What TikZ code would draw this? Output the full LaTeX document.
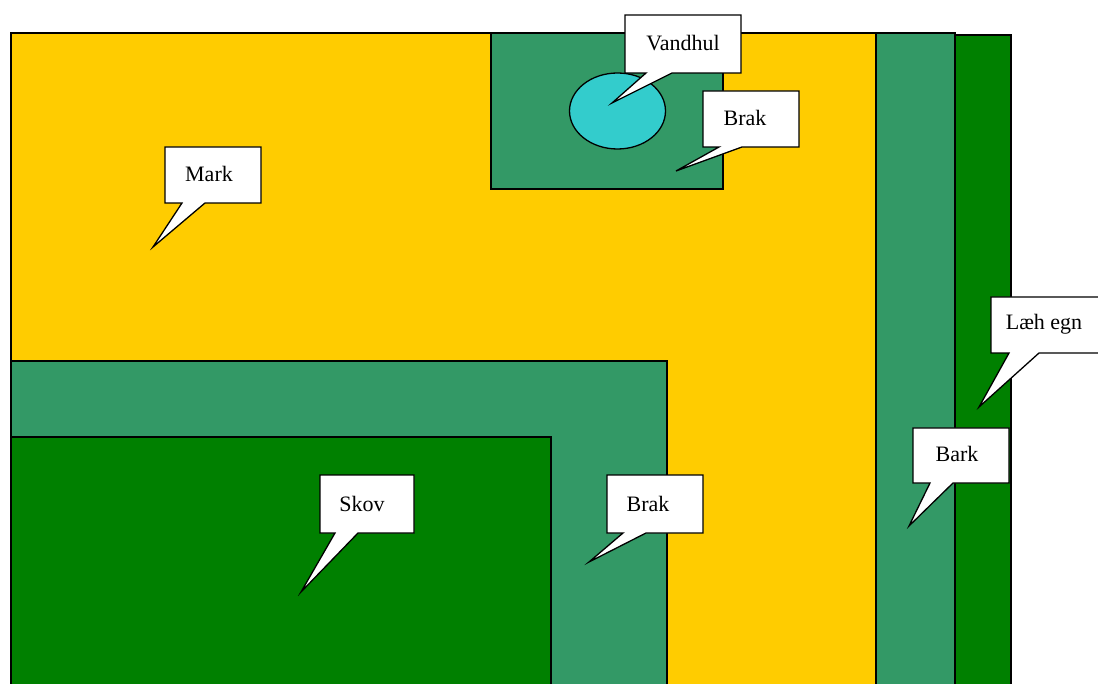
\documentclass[tikz,border=0pt]{standalone}
\usepackage{fontspec}
\setmainfont{Liberation Serif}
\definecolor{markyellow}{HTML}{FFCC00}
\definecolor{brakgreen}{HTML}{339966}
\definecolor{skovgreen}{HTML}{008000}
\definecolor{water}{HTML}{33CCCC}
\tikzset{
  area/.style={draw=black, line width=1.3pt},
  bubble/.style={draw=black, fill=white, line width=1.3pt, line join=miter},
  lbl/.style={inner sep=0pt, font=\fontsize{22}{26}\selectfont},
}
% callout: box x1,y1,x2,y2 ; tail base left, right ; tip
\newcommand{\mycallout}[8]{%
  \draw[bubble] (#1,#2) -- (#3,#2) -- (#3,#4) -- (#6,#4) -- (#7,#8) -- (#5,#4) -- (#1,#4) -- cycle;}
\begin{document}
\begin{tikzpicture}[x=1pt,y=-1pt]
\useasboundingbox (0,0) rectangle (1098,684);
\clip (0,0) rectangle (1098,684);
% fields
\draw[area, fill=markyellow] (11,33) rectangle (876,700);
\draw[area, fill=brakgreen] (11,361) rectangle (667,700);
\draw[area, fill=skovgreen] (11,437) rectangle (551,700);
\draw[area, fill=brakgreen] (491,33) rectangle (723,189);
\draw[area, fill=water] (617.5,111) ellipse [x radius=48, y radius=38];
\draw[area, fill=brakgreen] (876,33) rectangle (955,700);
\draw[area, fill=skovgreen] (955,35) rectangle (1011,700);
% callouts
\mycallout{165}{147}{261}{203}{182}{205}{153}{247}
\node[lbl] (mark) at (209,174) {Mark};
\mycallout{625}{15}{741}{73}{646}{672}{612}{103}
\node[lbl] (vandhul) at (683,43) {Vandhul};
\mycallout{703}{91}{799}{147}{719}{742}{676}{171}
\node[lbl] (brak1) at (745,118) {Brak};
\mycallout{991}{297}{1100}{353}{1009}{1039}{979}{407}
\node[lbl] (laehegn) at (1044,324) {Læh egn};
\mycallout{913}{428}{1009}{483}{930}{953}{909}{526}
\node[lbl] (bark) at (957,454) {Bark};
\mycallout{320}{475}{414}{533}{335}{358}{301}{592}
\node[lbl] (skov) at (362,504) {Skov};
\mycallout{607}{475}{703}{533}{623}{646}{589}{562}
\node[lbl] (brak2) at (648,504) {Brak};
\end{tikzpicture}
\end{document}
